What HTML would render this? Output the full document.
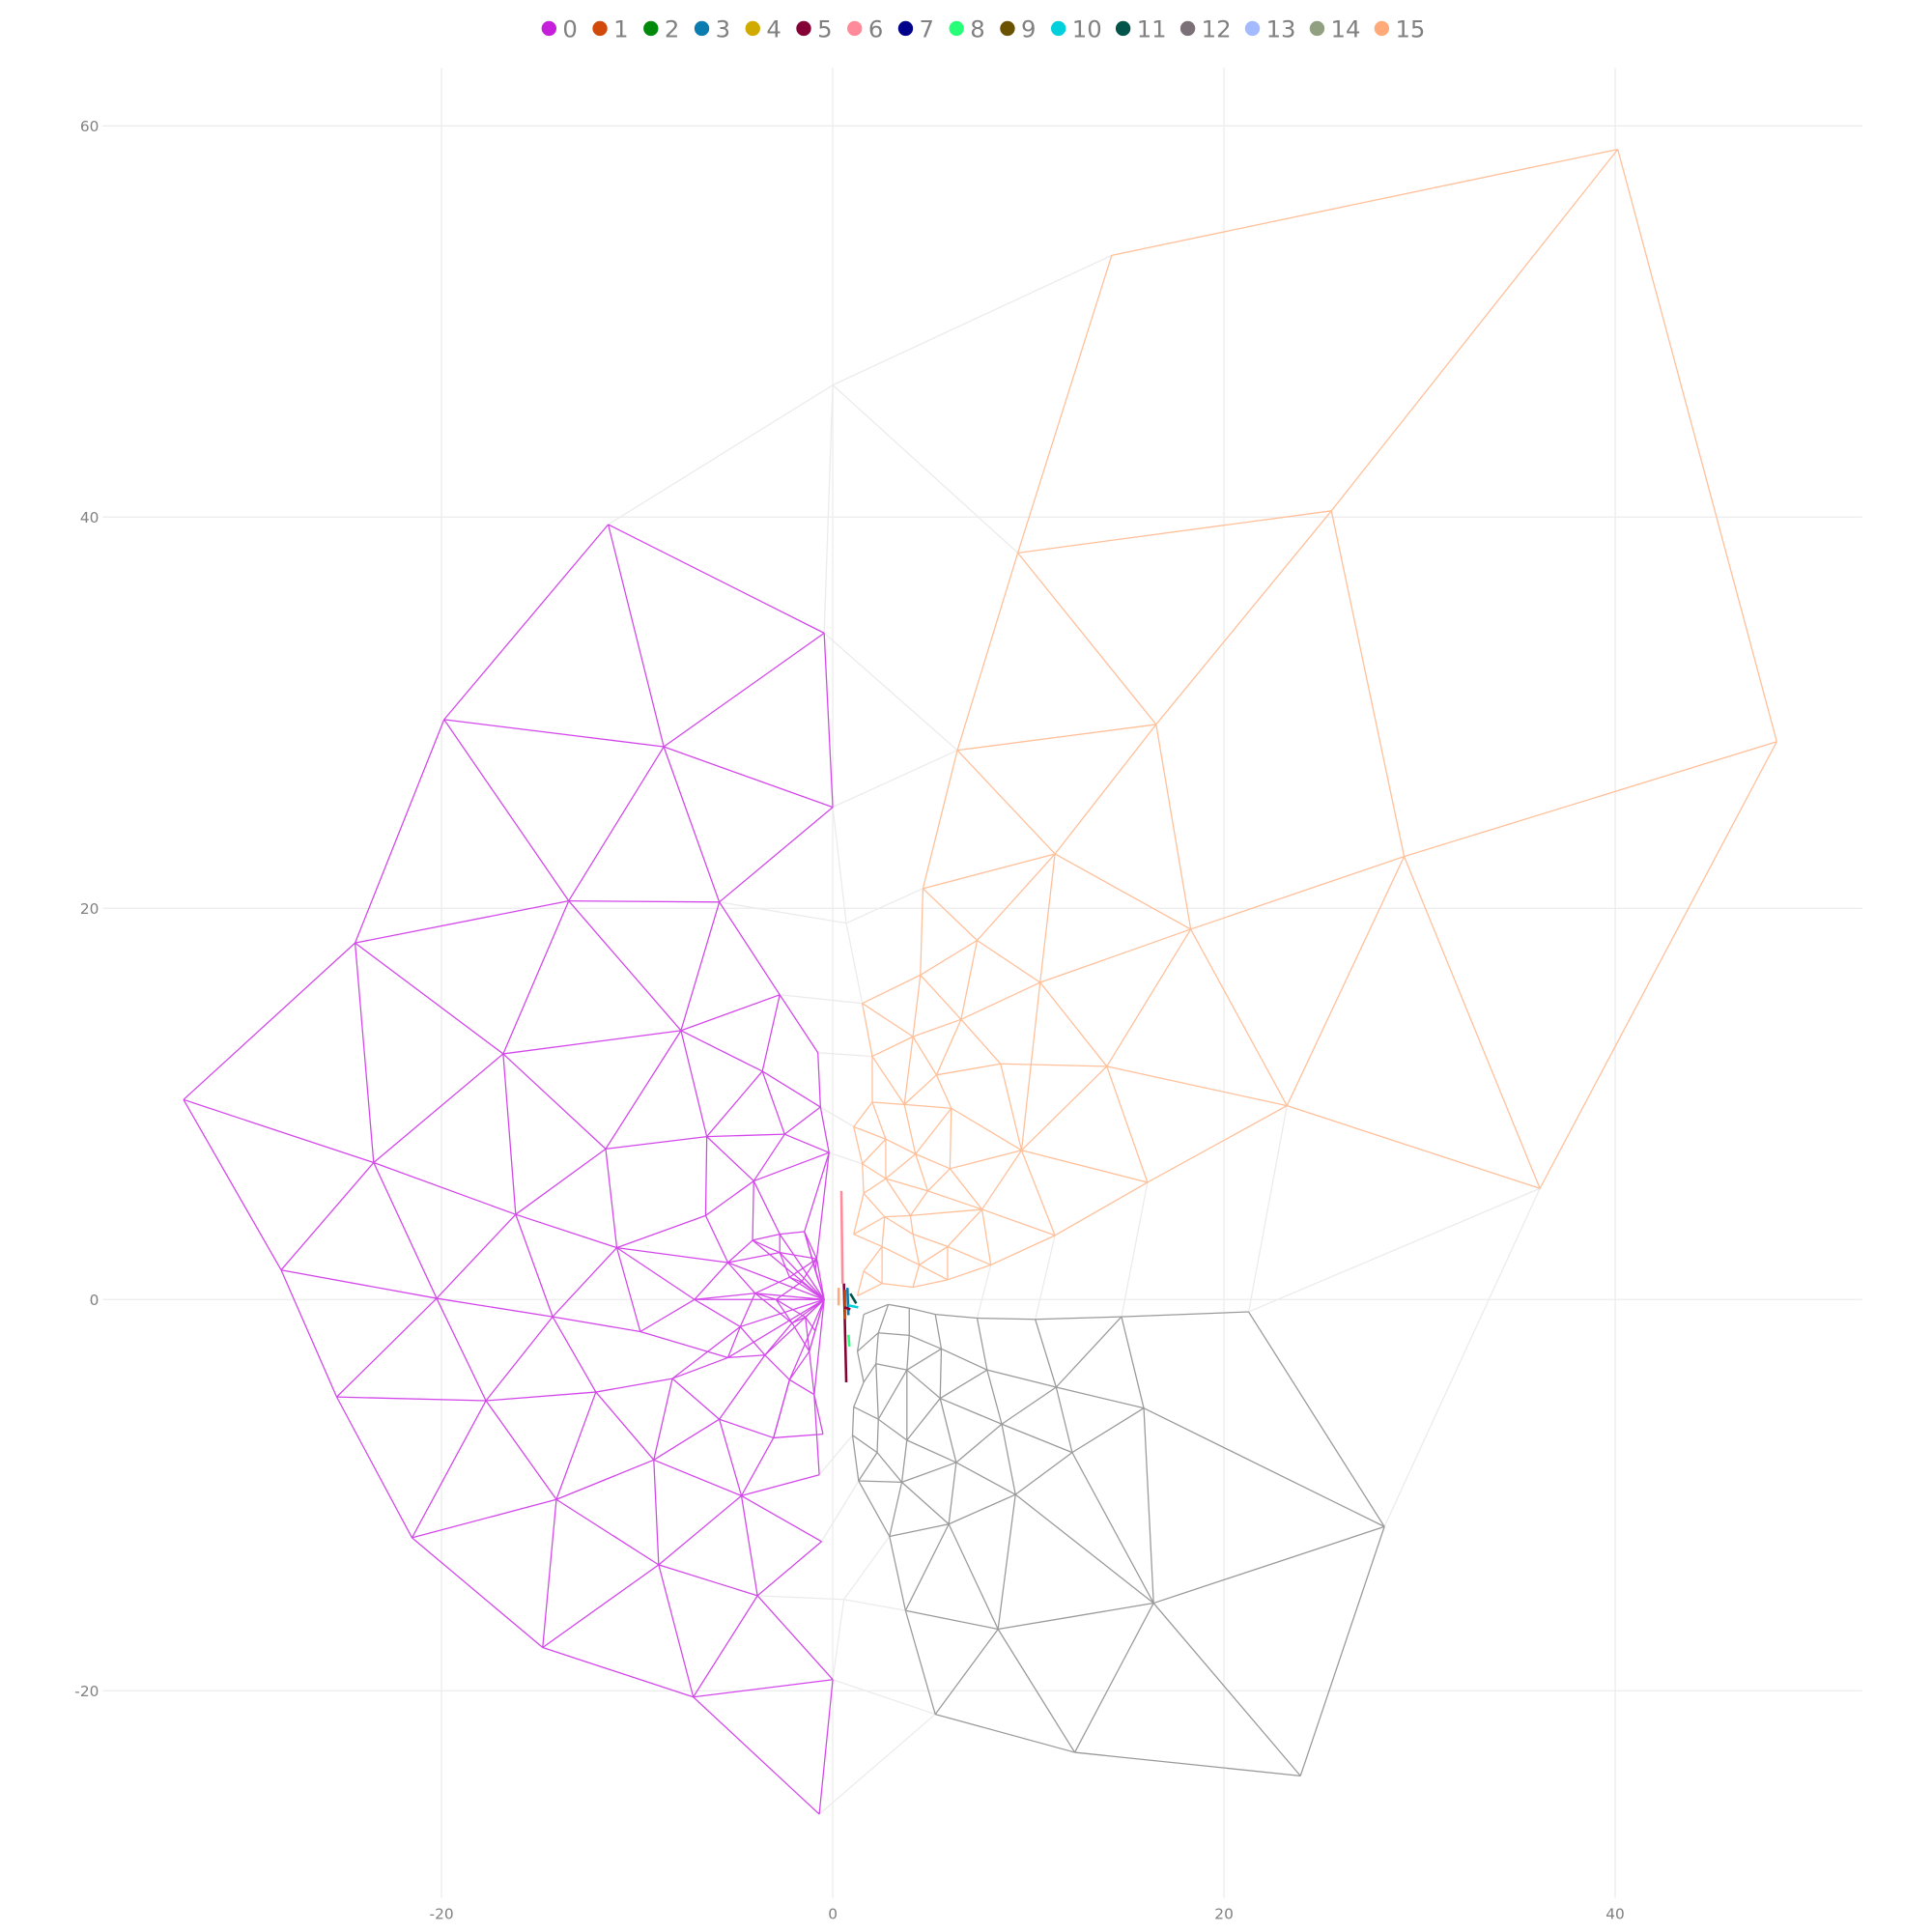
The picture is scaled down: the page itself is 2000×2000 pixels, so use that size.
<!DOCTYPE html>
<html><head><meta charset="utf-8">
<style>
html,body{margin:0;padding:0;background:#fff;}
svg{display:block;}
text{font-family:"DejaVu Sans","Liberation Sans",sans-serif;}
</style></head>
<body>
<svg id="chart" width="2000" height="2000" viewBox="0 0 1562.5 1562.5" xmlns="http://www.w3.org/2000/svg">
<g id="grid"></g>
<g id="light"></g>
<g id="edges"></g>
<g id="axes"></g>
<g id="legend"></g>
</svg>
<script>
const xTicks = [-20, 0, 20, 40];
const yTicks = [-20, 0, 20, 40, 60];
const legendLabels = ["0","1","2","3","4","5","6","7","8","9","10","11","12","13","14","15"];
const legendColors = ["#c51fdc","#d24a0a","#008a0c","#0a7cb0","#d1aa00","#850034","#ff8a9a","#00008a","#28ff78","#6a5200","#00d0dc","#00544a","#7c7078","#a4baff","#90a080","#ffaa78"];

const purpleNodes = [["P1",-11.48,39.62],["P2",-0.44,34.07],["P3",-19.87,29.65],["P4",-8.64,28.26],["P5",0,25.17],["P6",-13.5,20.38],["P7",-5.8,20.32],["P8",-24.42,18.23],["P9",-7.76,13.75],["P10",-2.71,15.58],["P11",-0.76,12.62],["P12",-16.85,12.56],["P13",-3.6,11.67],["P14",-33.19,10.22],["P15",-0.63,9.84],["P16",-6.44,8.33],["P17",-2.46,8.45],["P18",-11.61,7.7],["P19",-23.47,7.0],["P20",-0.19,7.51],["P21",-4.04,6.06],["P22",-16.21,4.35],["P23",-6.5,4.29],["P24",-11.04,2.65],["P25",-28.2,1.51],["P26",-20.25,0.06],["P27",-14.32,-0.88],["P28",-9.84,-1.64],["P29",-25.36,-4.98],["P30",-17.73,-5.17],["P31",-12.11,-4.73],["P32",-8.2,-4.04],["P33",-5.8,-6.12],["P34",-3.03,-7.07],["P35",-9.15,-8.2],["P36",-4.67,-10.03],["P37",-14.13,-10.22],["P38",-0.69,-8.96],["P39",-21.51,-12.18],["P40",-0.57,-12.37],["P41",-8.9,-13.56],["P42",-3.85,-15.14],["P43",-14.83,-17.79],["P44",-7.13,-20.32],["P45",0,-19.43],["P46",-0.69,-26.31],["P47",-0.5,-6.88],
["Q1",-5.36,1.89],["Q2",-4.1,3.03],["Q3",-2.71,3.34],["Q4",-1.45,3.47],["Q5",-0.82,2.08],["Q6",-2.21,1.14],["Q7",-3.97,0.32],["Q8",-4.73,-1.39],["Q9",-3.47,-2.84],["Q10",-2.21,-4.1],["Q11",-1.2,-2.65],["Q12",-2.08,-1.2],["Q13",-0.95,-4.86],["Q14",-7.07,0],["Q15",-5.36,-2.97],["Q16",-2.71,2.4],["C",-0.44,0],
["R1",-1.6,0.9],["R2",-1.4,-0.9],["R3",-2.9,0],["R4",-0.9,1.5],["R5",-0.9,-1.6]];
const purpleEdges = [["P1","P2"],["P1","P3"],["P1","P4"],["P2","P4"],["P2","P5"],["P3","P4"],["P3","P6"],["P3","P8"],["P4","P6"],["P4","P7"],["P4","P5"],["P5","P7"],["P6","P7"],["P6","P8"],["P6","P12"],["P6","P9"],["P7","P9"],["P7","P10"],["P8","P12"],["P8","P14"],["P8","P19"],["P9","P10"],["P9","P12"],["P9","P18"],["P9","P16"],["P9","P13"],["P10","P11"],["P10","P13"],["P11","P15"],["P12","P19"],["P12","P22"],["P12","P18"],["P13","P15"],["P13","P16"],["P13","P17"],["P14","P19"],["P14","P25"],["P15","P17"],["P15","P20"],["P16","P17"],["P16","P18"],["P16","P23"],["P16","P21"],["P17","P20"],["P17","P21"],["P18","P22"],["P18","P24"],["P19","P22"],["P19","P25"],["P19","P26"],["P22","P24"],["P22","P26"],["P22","P27"],["P23","P24"],["P23","P21"],["P24","P27"],["P24","P28"],["P25","P26"],["P25","P29"],["P26","P29"],["P26","P30"],["P26","P27"],["P27","P30"],["P27","P31"],["P27","P28"],["P29","P30"],["P29","P39"],["P30","P39"],["P30","P37"],["P30","P31"],["P31","P37"],["P31","P35"],["P31","P32"],["P32","P35"],["P32","P33"],["P33","P35"],["P33","P36"],["P33","P34"],["P34","P36"],["P34","P47"],["P35","P36"],["P35","P37"],["P35","P41"],["P36","P38"],["P36","P41"],["P36","P42"],["P37","P39"],["P37","P41"],["P37","P43"],["P39","P43"],["P40","P42"],["P36","P40"],["P41","P43"],["P41","P42"],["P41","P44"],["P42","P44"],["P42","P45"],["P43","P44"],["P44","P45"],["P44","P46"],["P45","P46"],["P20","P21"],["P23","Q1"],["P24","Q1"],["P28","Q14"],["P24","Q14"],["P28","Q15"],["P32","Q15"],["P32","Q8"],["P33","Q9"],["P34","Q10"],["P47","Q13"],["P21","Q2"],["P21","Q3"],["P20","Q4"],["P20","Q5"],["Q1","Q2"],["Q2","Q3"],["Q3","Q4"],["Q4","Q5"],["Q1","Q7"],["Q1","Q14"],["Q14","Q7"],["Q14","Q8"],["Q7","Q8"],["Q8","Q15"],["Q15","Q9"],["Q8","Q9"],["Q9","Q10"],["Q10","Q13"],["Q10","Q11"],["Q9","Q12"],["Q11","Q12"],["Q11","Q13"],["Q12","Q7"],["Q6","Q7"],["Q6","Q16"],["Q16","Q3"],["Q16","Q2"],["Q16","Q5"],["Q6","Q5"],["Q1","Q16"],["C","Q1"],["C","Q2"],["C","Q3"],["C","Q4"],["C","Q5"],["C","Q6"],["C","Q7"],["C","Q8"],["C","Q9"],["C","Q10"],["C","Q11"],["C","Q12"],["C","Q13"],["C","Q14"],["C","Q15"],["C","Q16"],["Q13","P38"],["Q10","P34"],["R1","Q6"],["R1","Q5"],["R1","R3"],["R3","Q7"],["R3","Q12"],["R2","Q12"],["R2","Q11"],["R2","R3"],["R4","Q5"],["R4","Q4"],["R5","Q11"],["R5","R2"],["C","R1"],["C","R2"],["C","R3"],["C","R4"],["C","R5"]];

const orangeNodes = [["O1",40.13,58.8],["O2",14.26,53.38],["O3",25.49,40.32],["O4",9.46,38.17],["O5",48.26,28.52],["O6",6.37,28.08],["O7",16.53,29.4],["O8",11.36,22.78],["O9",29.21,22.65],["O10",4.61,21.01],["O11",18.3,18.93],["O12",7.38,18.36],["O13",10.6,16.21],["O14",4.48,16.59],["O15",6.56,14.32],["O16",1.51,15.14],["O17",4.1,13.44],["O18",8.58,12.05],["O19",14.01,11.92],["O20",5.3,11.48],["O21",2.02,12.43],["O22",23.22,9.91],["O23",3.66,9.97],["O24",6.06,9.78],["O25",2.02,10.09],["O26",1.07,8.83],["O27",9.65,7.63],["O28",2.71,8.2],["O29",4.23,7.44],["O30",5.99,6.69],["O31",1.51,6.94],["O32",36.15,5.68],["O33",16.09,5.99],["O34",2.71,6.18],["O35",4.86,5.55],["O36",3.97,4.29],["O37",7.63,4.61],["O38",11.36,3.28],["O39",1.58,5.43],["O40",1.07,3.34],["O41",2.65,4.23],["O42",4.1,3.34],["O43",5.87,2.71],["O44",8.08,1.77],["O45",2.52,2.71],["O46",4.42,1.77],["O47",5.87,1.01],["O48",4.1,0.63],["O49",1.58,1.45],["O50",1.26,0.19],["O51",2.52,0.82]];
const orangeEdges = [["O1","O2"],["O1","O3"],["O1","O5"],["O2","O4"],["O3","O4"],["O3","O7"],["O3","O9"],["O4","O7"],["O4","O6"],["O5","O9"],["O5","O32"],["O6","O7"],["O6","O8"],["O6","O10"],["O7","O8"],["O7","O11"],["O8","O10"],["O8","O12"],["O8","O13"],["O8","O11"],["O9","O11"],["O9","O22"],["O9","O32"],["O11","O13"],["O11","O19"],["O11","O22"],["O10","O12"],["O10","O14"],["O12","O14"],["O12","O15"],["O12","O13"],["O13","O15"],["O13","O19"],["O13","O27"],["O14","O15"],["O14","O16"],["O14","O17"],["O15","O17"],["O15","O20"],["O15","O18"],["O16","O17"],["O16","O21"],["O17","O20"],["O17","O21"],["O17","O23"],["O18","O19"],["O18","O20"],["O18","O27"],["O19","O22"],["O19","O27"],["O19","O33"],["O20","O23"],["O20","O24"],["O21","O25"],["O21","O23"],["O22","O32"],["O22","O33"],["O23","O24"],["O23","O25"],["O23","O29"],["O24","O27"],["O24","O29"],["O24","O30"],["O25","O26"],["O25","O28"],["O26","O28"],["O26","O31"],["O27","O30"],["O27","O33"],["O27","O37"],["O27","O38"],["O28","O29"],["O28","O31"],["O28","O34"],["O29","O30"],["O29","O35"],["O29","O34"],["O30","O35"],["O30","O37"],["O31","O34"],["O31","O39"],["O33","O38"],["O38","O44"],["O37","O38"],["O34","O35"],["O34","O39"],["O34","O36"],["O35","O36"],["O35","O37"],["O36","O37"],["O36","O41"],["O36","O42"],["O37","O43"],["O37","O44"],["O39","O40"],["O39","O41"],["O40","O41"],["O40","O45"],["O41","O42"],["O41","O45"],["O42","O43"],["O42","O46"],["O43","O44"],["O43","O46"],["O43","O47"],["O44","O47"],["O45","O46"],["O45","O49"],["O46","O48"],["O46","O47"],["O47","O48"],["O48","O51"],["O49","O50"],["O49","O51"],["O50","O51"],["O45","O51"]];

const grayNodes = [["G1",21.26,-0.63],["G2",14.76,-0.88],["G3",10.35,-1.01],["G4",7.38,-0.95],["G5",5.24,-0.76],["G6",3.91,-0.44],["G7",2.84,-0.25],["G8",28.2,-11.61],["G9",15.9,-5.55],["G10",11.42,-4.48],["G11",7.89,-3.6],["G12",5.55,-2.52],["G13",3.91,-1.83],["G14",2.33,-1.7],["G15",8.64,-6.37],["G16",5.49,-5.05],["G17",3.79,-3.6],["G18",2.21,-3.28],["G19",12.24,-7.82],["G20",6.31,-8.33],["G21",3.79,-7.19],["G22",2.33,-6.12],["G23",1.07,-5.49],["G24",9.34,-9.97],["G25",5.93,-11.48],["G26",3.53,-9.34],["G27",2.27,-7.82],["G28",1.01,-6.94],["G29",16.4,-15.52],["G30",8.45,-16.85],["G31",3.72,-15.9],["G32",2.9,-12.11],["G33",1.32,-9.27],["G34",12.37,-23.15],["G35",23.91,-24.35],["G36",5.24,-21.2],["G37",1.58,-4.23],["G38",1.26,-2.65],["G39",1.58,-0.76]];
const grayEdges = [["G1","G2"],["G1","G8"],["G2","G3"],["G3","G4"],["G4","G5"],["G5","G6"],["G6","G7"],["G7","G39"],["G2","G9"],["G2","G10"],["G3","G10"],["G4","G11"],["G5","G12"],["G6","G13"],["G7","G14"],["G9","G10"],["G9","G8"],["G9","G19"],["G9","G29"],["G10","G11"],["G10","G15"],["G10","G19"],["G11","G12"],["G11","G15"],["G11","G16"],["G12","G13"],["G12","G16"],["G12","G17"],["G13","G14"],["G13","G17"],["G14","G18"],["G14","G38"],["G15","G16"],["G15","G19"],["G15","G20"],["G15","G24"],["G16","G17"],["G16","G21"],["G16","G20"],["G17","G18"],["G17","G21"],["G17","G22"],["G18","G22"],["G18","G37"],["G19","G24"],["G19","G29"],["G20","G21"],["G20","G24"],["G20","G25"],["G20","G26"],["G21","G22"],["G21","G26"],["G22","G23"],["G22","G27"],["G23","G28"],["G23","G37"],["G24","G25"],["G24","G29"],["G24","G30"],["G25","G26"],["G25","G32"],["G25","G30"],["G25","G31"],["G26","G27"],["G26","G32"],["G26","G33"],["G27","G28"],["G27","G33"],["G28","G33"],["G29","G8"],["G29","G30"],["G29","G34"],["G29","G35"],["G8","G35"],["G30","G31"],["G30","G34"],["G30","G36"],["G31","G32"],["G31","G36"],["G32","G33"],["G34","G35"],["G34","G36"],["G37","G38"],["G38","G39"]];

const lightNodes = [["L1",0,46.75],["L2",0.69,19.24],["L3",0.57,-15.33]];
const lightEdges = [["L1","O2"],["L1","P1"],["L1","P2"],["L1","O4"],["P2","O6"],["P5","O6"],["P5","L2"],["P7","L2"],["L2","O10"],["L2","O16"],["P10","O16"],["P11","O21"],["P15","O26"],["G1","O32"],["G1","O22"],["G2","O33"],["G3","O38"],["G8","O32"],["G4","O44"],["P45","G36"],["P45","L3"],["P42","L3"],["L3","G31"],["L3","G32"],["P46","G36"],["P40","G33"],["P20","O31"],["P38","G28"],["P10","P11"]];

const clusterStarts = [[0.44,5.55],[0.57,0.82],[0.63,0.5],[0.75,0.6],[0.9,0.3],[0.8,-0.3],[0.8,-1.8],[0.3,0.6],[0.6,-0.4]];
const clusterEnds = [[0.5,0.82],[0.69,-4.23],[0.63,-1.0],[0.8,-0.8],[1.2,-0.2],[1.3,-0.4],[0.85,-2.4],[0.3,-0.3],[0.9,-0.5]];
const clusterColor = [6,5,1,3,11,10,8,15,5];

const NS="http://www.w3.org/2000/svg";
const X0=673.5, Y0=1051, K=15.82;
function sx(v){return X0+v*K;}
function sy(v){return Y0-v*K;}
function mk(tag,attrs,parent){const e=document.createElementNS(NS,tag);for(const k in attrs)e.setAttribute(k,attrs[k]);parent.appendChild(e);return e;}

const nodeMap={};
[purpleNodes,orangeNodes,grayNodes,lightNodes].forEach(a=>a.forEach(n=>{nodeMap[n[0]]=[n[1],n[2]];}));

const grid=document.getElementById('grid');
const axes=document.getElementById('axes');
xTicks.forEach(t=>{
  const l=mk('line',{x1:sx(t),x2:sx(t),y1:55,y2:1535,stroke:'#ececec','stroke-width':1},grid);
  
  
  const tx=mk('text',{x:sx(t),y:1552,'text-anchor':'middle','font-size':12,fill:'#808080'},axes);
  tx.textContent=t;
  
  
});
yTicks.forEach(t=>{
  const l=mk('line',{x1:83,x2:1506,y1:sy(t),y2:sy(t),stroke:'#ececec','stroke-width':1},grid);
  
  
  const tx=mk('text',{x:80,y:sy(t)+4.5,'text-anchor':'end','font-size':12,fill:'#808080'},axes);
  tx.textContent=t;
  
  
});

function drawEdges(edges,color,parent,name,w){
  edges.forEach(e=>{
    const a=nodeMap[e[0]], b=nodeMap[e[1]];
    if(!a||!b) return;
    const l=mk('line',{x1:sx(a[0]),y1:sy(a[1]),x2:sx(b[0]),y2:sy(b[1]),stroke:color,'stroke-width':w},parent);
    
    
  });
}
const light=document.getElementById('light');
const edges=document.getElementById('edges');
drawEdges(lightEdges,'#ebebeb',light,'connector-edge',1);
drawEdges(purpleEdges,'#d347ea',edges,'cluster-0-edge',1);
drawEdges(orangeEdges,'#ffbf99',edges,'cluster-15-edge',1);
drawEdges(grayEdges,'#9a9a9a',edges,'cluster-12-edge',1);
clusterStarts.forEach((s,i)=>{
  const e=clusterEnds[i];
  const l=mk('line',{x1:sx(s[0]),y1:sy(s[1]),x2:sx(e[0]),y2:sy(e[1]),stroke:legendColors[clusterColor[i]],'stroke-width':2},edges);
  
  
});

const legend=document.getElementById('legend');
let lx=444;
legendLabels.forEach((lab,i)=>{
  const g=mk('g',{},legend);
  
  
  mk('circle',{cx:lx,cy:23,r:6,fill:legendColors[i]},g);
  const t=mk('text',{x:lx+11,y:30,'font-size':19,fill:'#808080'},g);
  t.textContent=lab;
  lx += lab.length>1 ? 52.3 : 41.2;
});
</script>
</body></html>
